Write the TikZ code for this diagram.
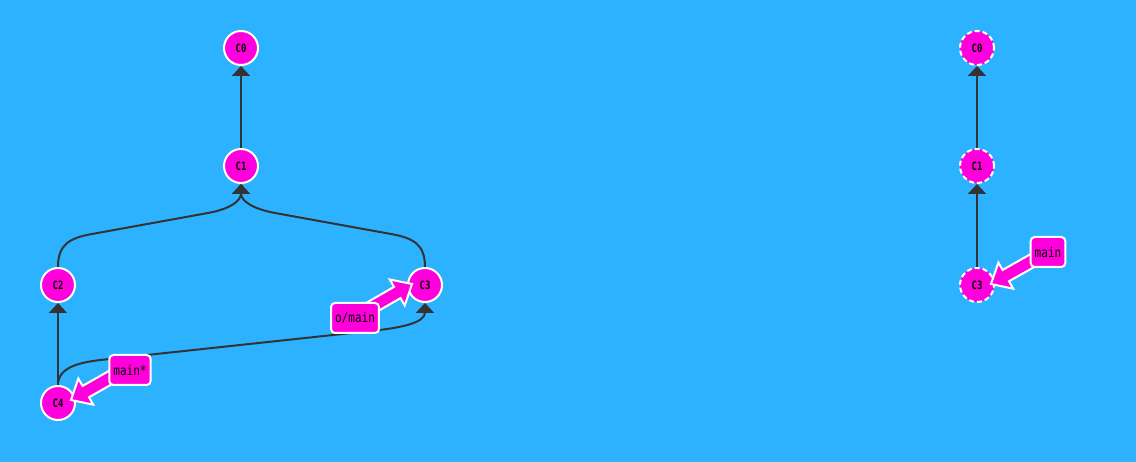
\documentclass[tikz,border=0pt]{standalone}
\usepackage{fontspec}
\newfontfamily\monof[FakeStretch=0.82]{DejaVu Sans Mono}
\newfontfamily\monob[FakeStretch=0.78]{DejaVu Sans Mono}
\usetikzlibrary{arrows.meta,calc}
\definecolor{bgc}{RGB}{44,178,255}
\definecolor{mag}{RGB}{255,0,220}
\definecolor{edgec}{RGB}{51,51,51}
\newcommand\blockarrow[2]{%
  \path coordinate (ba-b) at ($(#2)!17pt!(#1)$);
  \draw[refarrow] ($(#1)!6.5pt!90:(#2)$) -- ($(ba-b)!6.5pt!90:(#2)$) --
    ($(ba-b)!15pt!90:(#2)$) -- (#2) -- ($(ba-b)!15pt!-90:(#2)$) --
    ($(ba-b)!6.5pt!-90:(#2)$) -- ($(#1)!6.5pt!-90:(#2)$) -- cycle;}
\begin{document}
\begin{tikzpicture}[x=1pt,y=-1pt,
  commit/.style={circle, fill=mag, draw=white, line width=2pt, minimum size=34pt, inner sep=0pt,
    font=\monob\bfseries\fontsize{11.5}{11.5}\selectfont},
  ghost/.style={commit, dash pattern=on 5pt off 3pt},
  edge/.style={draw=edgec, line width=2pt, -{Triangle[width=18pt,length=10pt]}},
  refbox/.style={rectangle, rounded corners=4pt, fill=mag, draw=white, line width=2pt,
    minimum height=30pt, inner xsep=4pt, font=\monof\fontsize{13.5}{13.5}\selectfont},
  refarrow/.style={fill=mag, draw=white, line width=2pt, line join=miter}]
\fill[bgc] (0,0) rectangle (1136,462);
\useasboundingbox (0,0) rectangle (1136,462);
% left graph
\node[commit] (c0) at (241,48) {C0};
\node[commit] (c1) at (241,166) {C1};
\node[commit] (c2) at (58,285) {C2};
\node[commit] (c3) at (425,285) {C3};
\node[commit] (c4) at (58,403) {C4};
\draw[edge] (c1) -- (c0);
\draw[edge] (c2.north) .. controls +(0,-23) and (70,238) .. (92,234) -- (208,213)
  .. controls (230,209) and +(0,17) .. (c1.south);
\draw[edge] (c3.north) .. controls +(0,-23) and (413,238) .. (391,234) -- (275,213)
  .. controls (253,209) and +(0,17) .. (c1.south);
\draw[edge] (c4) -- (c2);
\draw[edge] (c4.north) .. controls +(0,-18) and (80,362) .. (105,359.5) -- (375,330.5)
  .. controls (400,327.8) and +(0,20) .. (c3.south);
% right graph
\node[ghost] (r0) at (977,48) {C0};
\node[ghost] (r1) at (977,166) {C1};
\node[ghost] (r3) at (977,285) {C3};
\draw[edge] (r1) -- (r0);
\draw[edge] (r3) -- (r1);
% refs
\coordinate (s1) at (122,371); \coordinate (t1) at (71,400);
\coordinate (s2) at (360,314); \coordinate (t2) at (412,284);
\coordinate (s3) at (1044,254); \coordinate (t3) at (991,284);
\blockarrow{s1}{t1}
\blockarrow{s2}{t2}
\blockarrow{s3}{t3}
\node[refbox] (main1) at (130,370) {main*};
\node[refbox] (omain) at (355,318) {o/main};
\node[refbox] (main2) at (1048,252) {main};
\end{tikzpicture}
\end{document}
